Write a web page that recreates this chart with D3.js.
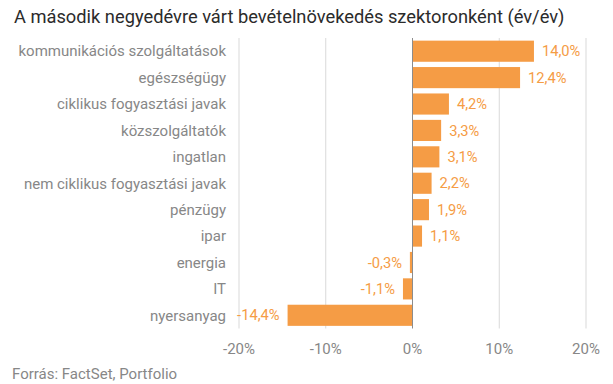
<!DOCTYPE html>
<html>
<head>
<meta charset="utf-8">
<script src="https://cdn.jsdelivr.net/npm/d3@7"></script>
<style>
  body { margin: 0; background: #fff; }
  svg { font-family: Roboto, "Noto Sans", sans-serif; }
</style>
</head>
<body>
<div id="main"></div>
<script>
var categories = ["kommunikációs szolgáltatások", "egészségügy", "ciklikus fogyasztási javak",
                  "közszolgáltatók", "ingatlan", "nem ciklikus fogyasztási javak", "pénzügy",
                  "ipar", "energia", "IT", "nyersanyag"];
var values = [14.0, 12.4, 4.2, 3.3, 3.1, 2.2, 1.9, 1.1, -0.3, -1.1, -14.4];
var ticks = [-20, -10, 0, 10, 20];
var title = "A második negyedévre várt bevételnövekedés szektoronként (év/év)";
var source = "Forrás: FactSet, Portfolio";

var width = 613, height = 384;
var bar_color = "#f59c45";
var label_color = "#878787";

var svg = d3.select("#main")
    .append("svg")
    .attr("width", width)
    .attr("height", height);

var x = d3.scaleLinear()
    .domain([-20, 20])
    .range([239, 586]);

var y = d3.scaleBand()
    .domain(categories)
    .range([38, 328.5])
    .paddingInner(0.2)
    .paddingOuter(0.1);

var fmt = function(v) { return d3.format(".1f")(v).replace(".", ",").replace("−", "-") + "%"; };

// grid
svg.selectAll(".grid")
    .data(ticks.filter(function(d) { return d != 0; }))
    .enter()
    .append("line")
    .attr("class", "grid")
    .attr("x1", function(d) { return x(d); })
    .attr("x2", function(d) { return x(d); })
    .attr("y1", 38)
    .attr("y2", 328.5)
    .attr("stroke", "#d9d9d9")
    .attr("stroke-width", 1);

svg.selectAll(".bar")
    .data(values)
    .enter()
    .append("rect")
    .attr("class", "bar")
    .attr("x", function(d) { return x(Math.min(0, d)); })
    .attr("width", function(d) { return Math.abs(x(d) - x(0)); })
    .attr("y", function(d, i) { return y(categories[i]); })
    .attr("height", y.bandwidth())
    .attr("fill", bar_color);

// zero line
svg.append("line")
    .attr("x1", x(0)).attr("x2", x(0))
    .attr("y1", 38).attr("y2", 328.5)
    .attr("stroke", "#8c8c8c")
    .attr("stroke-width", 1);

svg.selectAll(".val")
    .data(values)
    .enter()
    .append("text")
    .attr("class", "val")
    .attr("x", function(d) { return d >= 0 ? x(d) + 8 : x(d) - 8; })
    .attr("y", function(d, i) { return y(categories[i]) + y.bandwidth() / 2; })
    .attr("dy", "0.35em")
    .attr("text-anchor", function(d) { return d >= 0 ? "start" : "end"; })
    .attr("fill", bar_color)
    .style("font-size", "14.7px")
    .text(fmt);

svg.selectAll(".cat")
    .data(categories)
    .enter()
    .append("text")
    .attr("class", "cat")
    .attr("x", 226)
    .attr("y", function(d) { return y(d) + y.bandwidth() / 2; })
    .attr("dy", "0.35em")
    .attr("text-anchor", "end")
    .attr("fill", label_color)
    .style("font-size", "15px")
    .text(function(d) { return d; });

svg.selectAll(".tick_label")
    .data(ticks)
    .enter()
    .append("text")
    .attr("class", "tick_label")
    .attr("x", function(d) { return x(d); })
    .attr("y", 354)
    .attr("text-anchor", "middle")
    .attr("fill", label_color)
    .style("font-size", "15px")
    .text(function(d) { return d + "%"; });

svg.append("text")
    .attr("x", 14)
    .attr("y", 23)
    .attr("fill", "#2b2b2b")
    .style("font-size", "18.3px")
    .text(title);

svg.append("text")
    .attr("x", 12)
    .attr("y", 379)
    .attr("fill", label_color)
    .style("font-size", "15px")
    .text(source);
</script>
</body>
</html>
